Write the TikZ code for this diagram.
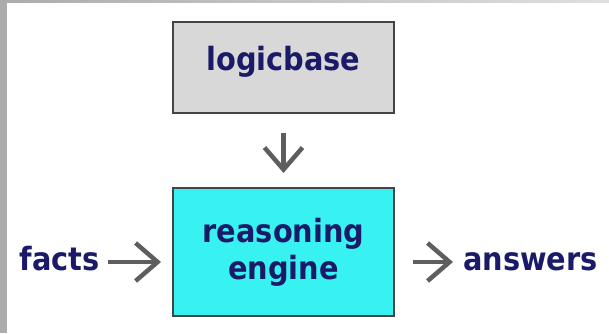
\documentclass[tikz,border=0pt]{standalone}
\usepackage{fontspec}
\setmainfont{DejaVu Sans}
\newfontfamily\heavysans{DejaVu Sans Condensed}
\usetikzlibrary{arrows.meta,positioning,calc}
\definecolor{txtblue}{HTML}{1A1A68}
\definecolor{boxgray}{HTML}{D8D8D8}
\definecolor{boxcyan}{HTML}{38F2F2}
\definecolor{edgegray}{HTML}{444444}
\definecolor{arrowgray}{HTML}{5E5E5E}

\begin{document}
\begin{tikzpicture}[x=1pt, y=1pt,
  blok/.style={draw=edgegray, line width=2pt, minimum width=221pt, align=center, text=txtblue, font=\heavysans\bfseries\fontsize{32}{37}\selectfont},
  lbl/.style={text=txtblue, inner sep=0pt, font=\heavysans\bfseries\fontsize{32}{37}\selectfont},
  flow/.style={-{Straight Barb[length=22pt,width=38pt]}, line width=4.5pt, draw=arrowgray}]
\useasboundingbox (0,0) rectangle (609,333);
% frame bands
\fill[gray!65] (0,0) rectangle (7,333);
\shade[left color=gray!65, right color=gray!25] (7,330) rectangle (609,333);

\node[blok, fill=boxgray, minimum height=91pt, text height=25pt, text depth=20pt] (logicbase) at (283.5,265.5) {logicbase};
\node[blok, fill=boxcyan, minimum height=128pt, below=75pt of logicbase, yshift=2pt] (engine) {reasoning\\engine};
\node[lbl, anchor=base east] (facts) at (100,63) {facts};
\node[lbl, anchor=base west] (answers) at (463,63) {answers};

\coordinate (fin) at ($(facts.base east)+(8,8)$);
\coordinate (aout) at ($(answers.base west)+(0,8)$);

\draw[flow, shorten <=19pt, shorten >=14pt] (logicbase) -- (engine);
\draw[flow, shorten >=11pt] (fin) -- (fin -| engine.west);
\draw[flow, shorten <=18pt, shorten >=10pt] (aout -| engine.east) -- (aout);
\end{tikzpicture}
\end{document}
